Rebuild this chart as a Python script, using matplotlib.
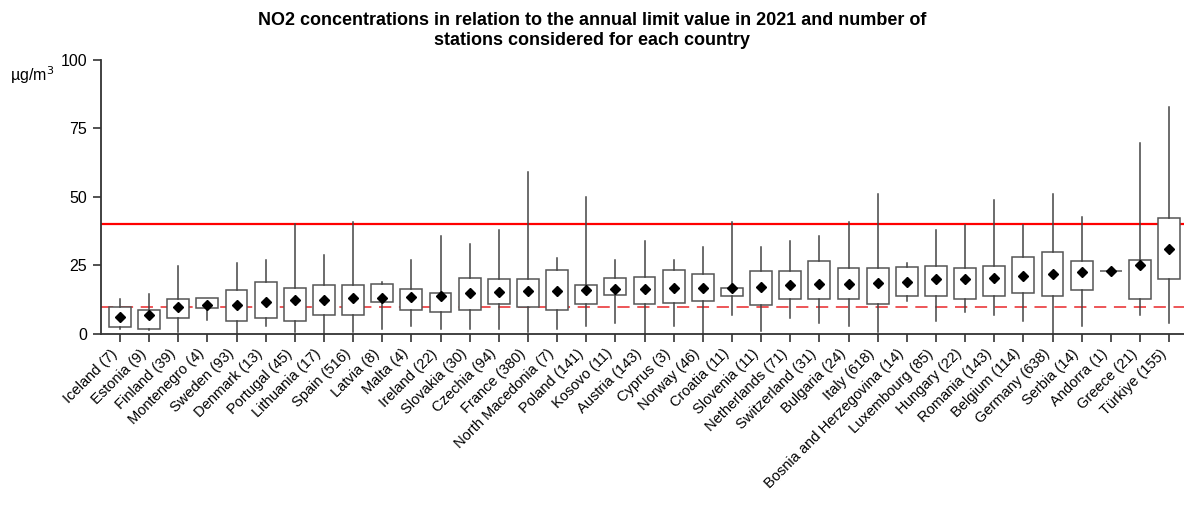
import matplotlib
matplotlib.use("Agg")
import matplotlib.pyplot as plt

plt.rcParams['font.family'] = ['Liberation Sans', 'DejaVu Sans']

countries = ["Iceland (7)", "Estonia (9)", "Finland (39)", "Montenegro (4)", "Sweden (93)",
             "Denmark (13)", "Portugal (45)", "Lithuania (17)", "Spain (516)", "Latvia (8)",
             "Malta (4)", "Ireland (22)", "Slovakia (30)", "Czechia (94)", "France (380)",
             "North Macedonia (7)", "Poland (141)", "Kosovo (11)", "Austria (143)", "Cyprus (3)",
             "Norway (46)", "Croatia (11)", "Slovenia (11)", "Netherlands (71)", "Switzerland (31)",
             "Bulgaria (24)", "Italy (618)", "Bosnia and Herzegovina (14)", "Luxembourg (85)",
             "Hungary (22)", "Romania (143)", "Belgium (114)", "Germany (638)", "Serbia (14)",
             "Andorra (1)", "Greece (21)", "Türkiye (155)"]

# whisker low, box low, box high, whisker high, mean  (µg/m3)
whislo = [1.8, 1.5, 0.9, 5.0, 0.0, 3.0, 0.8, 0.0, 0.8, 2.0,
          3.0, 1.9, 1.9, 1.9, 0.8, 1.9, 3.0, 3.9, 0.0, 3.0,
          0.0, 6.9, 1.0, 5.9, 3.9, 3.0, 0.8, 11.9, 4.9,
          7.9, 6.9, 4.9, 0.0, 3.0, 22.9, 6.9, 3.9]
q1 = [2.4, 1.8, 5.8, 9.3, 4.9, 5.8, 4.9, 6.9, 6.9, 11.7,
      8.9, 7.9, 8.9, 10.9, 10.0, 8.9, 10.9, 14.3, 10.9, 11.4,
      11.9, 13.8, 10.4, 12.9, 12.9, 12.6, 10.9, 13.8, 13.8,
      12.9, 13.8, 14.8, 13.8, 16.1, 22.9, 12.9, 19.9]
q3 = [10.0, 8.9, 12.9, 13.0, 15.9, 18.9, 16.9, 17.8, 17.8, 18.2,
      16.4, 14.8, 20.4, 19.9, 19.9, 23.4, 17.8, 20.4, 20.9, 23.4,
      21.8, 16.9, 22.9, 22.9, 26.5, 23.9, 23.9, 24.6, 24.9,
      23.9, 24.9, 27.9, 30.0, 26.7, 22.9, 26.9, 42.4]
whishi = [12.7, 14.7, 24.9, 13.0, 26.0, 26.9, 40.0, 28.9, 40.9, 18.8,
          26.8, 35.8, 32.9, 37.9, 59.0, 27.8, 49.9, 26.8, 33.9, 26.8,
          31.8, 40.9, 31.8, 33.9, 35.8, 40.9, 50.9, 25.9, 37.9,
          39.8, 48.8, 39.8, 50.9, 42.8, 22.9, 69.8, 82.9]
means = [6.2, 6.8, 9.7, 10.4, 10.6, 11.5, 12.3, 12.3, 13.0, 13.2,
         13.5, 13.7, 14.8, 15.2, 15.5, 15.5, 15.9, 16.3, 16.3, 16.6,
         16.6, 16.9, 17.2, 18.0, 18.2, 18.2, 18.5, 18.9, 19.9,
         19.9, 20.3, 21.2, 22.0, 22.5, 22.9, 25.1, 31.0]

limit_value = 40
guideline = 10

stats = []
for i in range(len(countries)):
    stats.append({"whislo": whislo[i], "q1": q1[i], "med": q1[i], "q3": q3[i],
                  "whishi": whishi[i], "mean": means[i], "label": countries[i]})

fig = plt.figure(figsize=(11.84, 5.09), dpi=100)
ax = fig.add_axes([101 / 1184, 1 - 334 / 509, (1184 - 101) / 1184, (334 - 59.7) / 509])

ax.axhline(limit_value, color="#ff0000", lw=1.6, zorder=1)
ax.axhline(guideline, color="#e8272a", lw=1.1, ls=(0, (8, 5)), zorder=1)

ax.bxp(stats, positions=range(len(countries)), widths=0.75, patch_artist=True,
       showmeans=True, showcaps=False, showfliers=False,
       boxprops=dict(facecolor="white", edgecolor="#555555", lw=1.1),
       whiskerprops=dict(color="#444444", lw=1.1),
       medianprops=dict(linestyle="none"),
       meanprops=dict(marker="D", markerfacecolor="black", markeredgecolor="black", markersize=5.5),
       zorder=2)

ax.set_xlim(-0.65, len(countries) - 0.49)
ax.set_ylim(0, 100)
ax.set_yticks([0, 25, 50, 75, 100])
ax.set_xticks(range(len(countries)))
ax.set_xticklabels(countries, rotation=45, ha="right", fontsize=10.5)
ax.tick_params(axis="y", labelsize=11.5, length=6, width=1.2, color="#333333", pad=4)
ax.tick_params(axis="x", length=6, width=1.2, color="#333333", pad=3)
for s in ["top", "right"]:
    ax.spines[s].set_visible(False)
for s in ["left", "bottom"]:
    ax.spines[s].set_linewidth(1.3)
    ax.spines[s].set_color("#333333")

fig.text(10 / 1184, 1 - 75 / 509, "µg/m$^3$", fontsize=11.5, va="center", ha="left")
fig.suptitle("NO2 concentrations in relation to the annual limit value in 2021 and number of\n"
             "stations considered for each country", fontsize=13, fontweight="bold",
             y=1 - 12 / 509, va="top", linespacing=1.25)

fig.savefig("out.png", dpi=100)
